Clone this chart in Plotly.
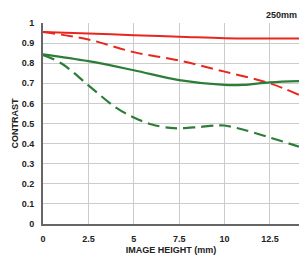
import plotly.graph_objects as go

x_red_s = [0, 2.5, 5, 7.5, 10, 12.5, 14.1]
y_red_s = [0.955, 0.948, 0.939, 0.932, 0.924, 0.923, 0.923]
x_red_d = [0, 2.5, 5, 7.5, 10, 12.5, 14.1]
y_red_d = [0.955, 0.918, 0.855, 0.813, 0.758, 0.70, 0.642]
x_grn_s = [0, 2.5, 5, 7.5, 10, 11, 12.5, 14.1]
y_grn_s = [0.844, 0.81, 0.765, 0.716, 0.692, 0.692, 0.705, 0.711]
x_grn_d = [0, 1, 2.5, 4, 5, 6, 7, 7.5, 8.5, 9.5, 10, 11, 12.5, 14.1]
y_grn_d = [0.84, 0.80, 0.69, 0.58, 0.53, 0.495, 0.478, 0.476, 0.482, 0.49, 0.49, 0.47, 0.43, 0.385]

x_ticks = [0, 2.5, 5, 7.5, 10, 12.5]
x_tick_text = ["0", "2.5", "5", "7.5", "10", "12.5"]
y_ticks = [0, 0.1, 0.2, 0.3, 0.4, 0.5, 0.6, 0.7, 0.8, 0.9, 1]
y_tick_text = ["0", "0.1", "0.2", "0.3", "0.4", "0.5", "0.6", "0.7", "0.8", "0.9", "1"]

RED = "#e8261e"
GREEN = "#2b7d38"
FAM = "Liberation Sans, Arial, sans-serif"

fig = go.Figure()
fig.add_trace(go.Scatter(x=x_red_s, y=y_red_s, mode="lines",
                         line=dict(color=RED, width=2, shape="spline")))
fig.add_trace(go.Scatter(x=x_red_d, y=y_red_d, mode="lines",
                         line=dict(color=RED, width=2, shape="spline", dash="12px,6px")))
fig.add_trace(go.Scatter(x=x_grn_s, y=y_grn_s, mode="lines",
                         line=dict(color=GREEN, width=2.2, shape="spline")))
fig.add_trace(go.Scatter(x=x_grn_d, y=y_grn_d, mode="lines",
                         line=dict(color=GREEN, width=2.2, shape="spline", dash="12px,6px")))

tf = dict(family=FAM, size=9, color="#222")

fig.update_layout(
    width=300, height=255,
    margin=dict(l=43, r=1, t=23, b=31),
    paper_bgcolor="white", plot_bgcolor="white",
    showlegend=False,
    font=tf,
    xaxis=dict(range=[0, 14.1], tickvals=x_ticks, ticktext=["<b>%s</b>" % t for t in x_tick_text],
               showgrid=True, gridcolor="#cccccc", gridwidth=1,
               showline=True, linecolor="#666", linewidth=2,
               zeroline=False, ticks="outside", ticklen=5, tickcolor="rgba(0,0,0,0)",
               tickfont=tf,
               title=dict(text="<b>IMAGE HEIGHT (mm)</b>", standoff=4, font=tf)),
    yaxis=dict(range=[0, 1], tickvals=y_ticks, ticktext=["<b>%s</b>" % t for t in y_tick_text],
               showgrid=True, gridcolor="#cccccc", gridwidth=1,
               showline=True, linecolor="#666", linewidth=2,
               zeroline=False, ticks="outside", ticklen=5, tickcolor="rgba(0,0,0,0)",
               tickfont=tf,
               title=dict(text="<b>CONTRAST</b>", standoff=2, font=tf)),
    annotations=[dict(text="<b>250mm</b>", x=1, y=1, xref="paper", yref="paper",
                      xanchor="right", yanchor="bottom", yshift=1, showarrow=False,
                      font=tf)],
)
fig.write_html("out.html")
